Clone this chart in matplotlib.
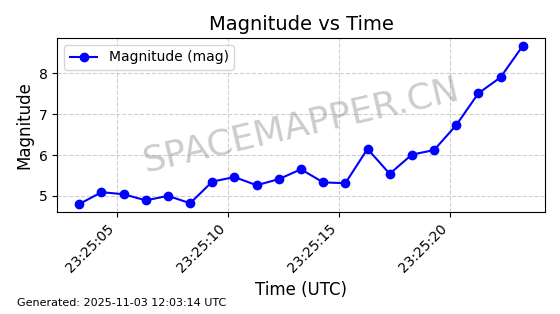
import datetime as dt

import matplotlib
matplotlib.use("Agg")
import matplotlib.pyplot as plt
import matplotlib.dates as mdates

# readings, one per second starting 23:25:03.3 UTC
START = dt.datetime(2025, 11, 2, 23, 25, 3, 300000)
magnitudes = [4.80, 5.09, 5.04, 4.89, 5.00, 4.82, 5.35, 5.46, 5.26, 5.41,
              5.65, 5.33, 5.31, 6.15, 5.54, 6.01, 6.12, 6.73, 7.51, 7.90, 8.67]
times = [START + dt.timedelta(seconds=i) for i in range(len(magnitudes))]
generated = "Generated: 2025-11-03 12:03:14 UTC"

fig, ax = plt.subplots(figsize=(5.6, 3.14), dpi=100)
fig.subplots_adjust(left=0.102, right=0.973, top=0.879, bottom=0.325)

ax.plot(times, magnitudes, color="blue", marker="o", markersize=6,
        linewidth=1.5, label="Magnitude (mag)")
ax.set_title("Magnitude vs Time", fontsize=14)
ax.set_xlabel("Time (UTC)", fontsize=12)
ax.set_ylabel("Magnitude", fontsize=12)
ax.xaxis.set_major_locator(mdates.SecondLocator(bysecond=range(0, 60, 5)))
ax.xaxis.set_major_formatter(mdates.DateFormatter("%H:%M:%S"))
plt.setp(ax.get_xticklabels(), rotation=45, ha="right")
ax.grid(True, linestyle="--", alpha=0.6)
ax.legend(loc="upper left")

# watermark
ax.text(0.5, 0.5, "SPACEMAPPER.CN", transform=ax.transAxes,
        fontsize=26, color="gray", alpha=0.4, rotation=13,
        ha="center", va="center")
fig.text(0.03, 0.025, generated, fontsize=8)

fig.savefig("out.png", dpi=100)
